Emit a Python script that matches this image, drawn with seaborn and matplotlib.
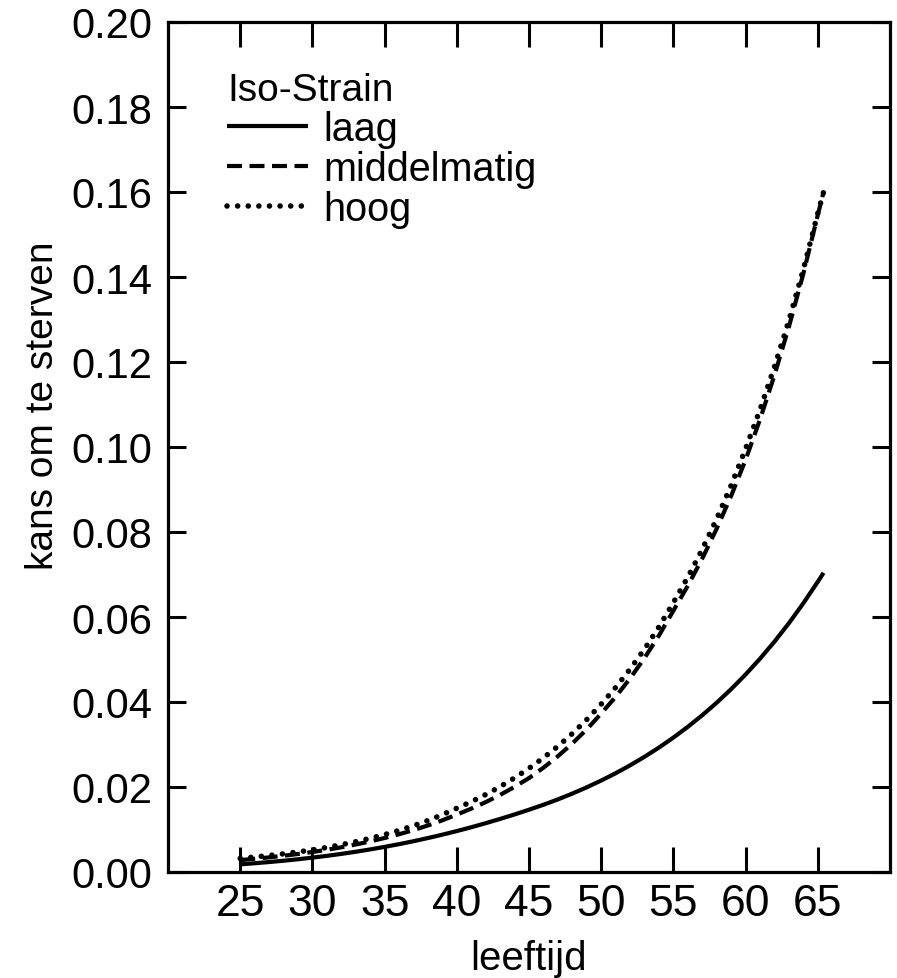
import matplotlib
matplotlib.use("Agg")
import matplotlib.pyplot as plt
import seaborn as sns
import pandas as pd
from matplotlib.ticker import FormatStrFormatter

# ---- data ----
leeftijd = [25, 26, 27, 28, 29, 30, 31, 32, 33, 34, 35, 36, 37, 38, 39, 40,
            41, 42, 43, 44, 45, 46, 47, 48, 49, 50, 51, 52, 53, 54, 55, 56,
            57, 58, 59, 60, 61, 62, 63, 64, 65, 65.4]
laag = [0.00180, 0.00206, 0.00234, 0.00265, 0.00300, 0.00338,
        0.00380, 0.00426, 0.00476, 0.00531, 0.00591,
        0.00655, 0.00724, 0.00799, 0.00878, 0.00963,
        0.01053, 0.01148, 0.01249, 0.01354, 0.01465,
        0.01582, 0.01708, 0.01845, 0.01993, 0.02152,
        0.02324, 0.02510, 0.02711, 0.02928, 0.03163,
        0.03416, 0.03689, 0.03984, 0.04303, 0.04648,
        0.05020, 0.05421, 0.05855, 0.06324, 0.06830, 0.07040]
middelmatig = [0.0028, 0.00311, 0.00344, 0.00382, 0.00424, 0.0047,
               0.00523, 0.00581, 0.00647, 0.00719, 0.0080,
               0.00888, 0.00986, 0.01095, 0.01216, 0.0135,
               0.0149, 0.01644, 0.01815, 0.02003, 0.0221,
               0.02454, 0.02724, 0.03024, 0.03357, 0.0373,
               0.04122, 0.04556, 0.05035, 0.05565, 0.0615,
               0.06736, 0.07378, 0.08081, 0.08851, 0.0970,
               0.1065, 0.1169, 0.1283, 0.1408, 0.1546, 0.1600]
hoog = [0.0032, 0.00353, 0.00389, 0.00428, 0.00472, 0.0052,
        0.00578, 0.00642, 0.00713, 0.00792, 0.0088,
        0.00979, 0.01089, 0.01212, 0.01348, 0.0150,
        0.01653, 0.01822, 0.02008, 0.02214, 0.0244,
        0.02687, 0.02958, 0.03257, 0.03587, 0.0395,
        0.04342, 0.04773, 0.05246, 0.05767, 0.0634,
        0.06939, 0.07595, 0.08313, 0.09099, 0.0996,
        0.1088, 0.1189, 0.1298, 0.1418, 0.1550, 0.1600]
series_names = ["laag", "middelmatig", "hoog"]
x_ticks = [25, 30, 35, 40, 45, 50, 55, 60, 65]
y_ticks = [0.00, 0.02, 0.04, 0.06, 0.08, 0.10, 0.12, 0.14, 0.16, 0.18, 0.20]
legend_title = "Iso-Strain"
x_label = "leeftijd"
y_label = "kans om te sterven"

df = pd.DataFrame({
    "leeftijd": leeftijd * 3,
    "kans": laag + middelmatig + hoog,
    "Iso-Strain": sum([[n] * len(leeftijd) for n in series_names], []),
})

sns.set_style("ticks")
plt.rcParams["font.family"] = ["Liberation Sans", "DejaVu Sans"]
for k in ["text.color", "axes.labelcolor", "xtick.color", "ytick.color",
          "axes.edgecolor"]:
    plt.rcParams[k] = "black"

W, H = 897, 979
fig = plt.figure(figsize=(W / 100, H / 100), dpi=100)
L, R, T, B = 168, 890, 23, 873
ax = fig.add_axes([L / W, 1 - B / H, (R - L) / W, (B - T) / H])

styles = {
    "laag": dict(linestyle="-", solid_capstyle="butt", lw=3.0),
    "middelmatig": dict(linestyle=(0, (3.6, 1.8)), dash_capstyle="butt", lw=3.0),
    "hoog": dict(linestyle=(0, (0.01, 1.9)), dash_capstyle="round", lw=4.0),
}
handles = []
for name in series_names:
    sub = df[df["Iso-Strain"] == name]
    sns.lineplot(data=sub, x="leeftijd", y="kans", ax=ax, color="black",
                 sort=False, errorbar=None, **styles[name])
    handles.append(ax.lines[-1])

ax.set_xlim(20, 70)
ax.set_ylim(0, 0.20)
ax.set_xticks(x_ticks)
ax.set_yticks(y_ticks)
ax.yaxis.set_major_formatter(FormatStrFormatter("%.2f"))

for sp in ax.spines.values():
    sp.set_linewidth(2.3)
    sp.set_color("black")
    sp.set_visible(True)

ax.tick_params(axis="x", direction="in", length=18, width=2.2, top=True,
               bottom=True, labelsize=32, pad=8, colors="black")
ax.tick_params(axis="y", direction="in", length=13, width=2.2, left=True,
               right=True, labelsize=30, pad=11, colors="black")

ax.set_xlabel(x_label, fontsize=29, color="black")
ax.set_ylabel(y_label, fontsize=28, color="black")
ax.xaxis.set_label_coords(0.5, (B - 940) / (B - T))
ax.yaxis.set_label_coords((61 - L) / (R - L), (B - 406) / (B - T))

leg = ax.legend(handles, series_names, title=legend_title, loc="upper left",
                bbox_to_anchor=((227 - L) / (R - L), (B - 73) / (B - T)),
                frameon=False, fontsize=28.5, title_fontsize=28,
                handlelength=2.05, handletextpad=0.38, labelspacing=0.05,
                borderpad=0, borderaxespad=0, alignment="left")
for t in leg.get_texts():
    t.set_color("black")
leg.get_title().set_color("black")

fig.savefig("out.png", dpi=100, facecolor="white")
